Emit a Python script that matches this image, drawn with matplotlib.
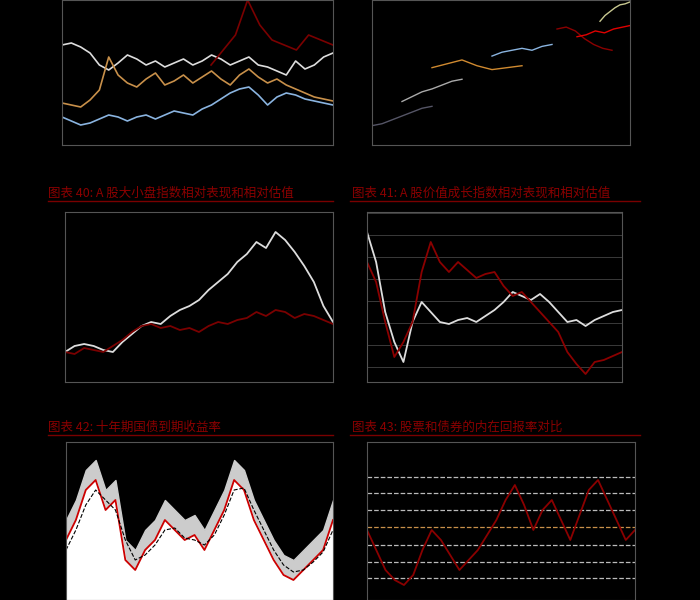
import matplotlib
matplotlib.use("Agg")
import matplotlib.pyplot as plt
import numpy as np

plt.rcParams['font.family'] = ['Noto Sans CJK SC', 'DejaVu Sans']

titles = ["图表 40: A 股大小盘指数相对表现和相对估值", "图表 41: A 股价值成长指数相对表现和相对估值",
          "图表 42: 十年期国债到期收益率", "图表 43: 股票和债券的内在回报率对比"]

# panel 1 (top-left)
p1_white = [100,102,98,92,80,75,82,90,86,80,84,78,82,86,80,84,90,86,80,84,88,80,78,74,70,84,76,80,88,92]
p1_orange = [42,40,38,45,55,88,70,62,58,66,72,60,64,70,62,68,74,66,60,70,76,68,62,66,60,56,52,48,46,44]
p1_blue = [28,24,20,22,26,30,28,24,28,30,26,30,34,32,30,36,40,46,52,56,58,50,40,48,52,50,46,44,42,40]
p1_red = [80,95,110,145,120,105,100,95,110,105,100]
# panel 2 (top-right) step segments
p2_segments = [
    ("#555566", [20,22,26,30,34,38,40]),
    ("#aaaaaa", [45,50,55,58,62,66,68]),
    ("#d08a30", [80,84,88,82,78,80,82]),
    ("#8ab4e0", [92,96,98,100,98,102,104]),
    ("#8b0000", [120,122,118,110,104,100,98]),
    ("#e00000", [112,114,118,116,120,122,124]),
    ("#c8c890", [128,134,138,142,145,146,148]),
]
p2_x = [(0,60),(30,90),(60,150),(120,180),(185,240),(205,260),(228,258)]
# panel 3 (mid-left)
p3_white = [30,36,38,36,32,30,40,48,56,60,58,66,72,76,82,92,100,108,120,128,140,134,150,142,130,116,100,76,60]
p3_red = [30,28,34,32,30,36,42,50,56,58,54,56,52,54,50,56,60,58,62,64,70,66,72,70,64,68,66,62,58]
# panel 4 (mid-right)
p4_white = [150,120,70,40,20,60,80,70,60,58,62,64,60,66,72,80,90,86,82,88,80,70,60,62,56,62,66,70,72]
p4_red = [120,100,60,25,40,60,110,140,120,110,120,112,104,108,110,96,86,90,80,70,60,50,30,18,8,20,22,26,30]
# panel 5 (bottom-left)
p5_red = [60,80,110,120,90,100,40,30,50,60,80,70,60,65,50,70,90,120,110,80,60,40,25,20,30,40,50,80]
p5_upper = [v + 20 for v in p5_red]
p5_dash = [50,70,95,110,100,90,60,40,45,55,70,72,62,60,55,65,85,110,112,90,70,50,35,28,30,38,48,70]
# panel 6 (bottom-right)
p6_red = [70,50,30,20,15,25,50,70,60,45,30,40,50,65,80,100,115,95,70,90,100,80,60,85,110,120,100,80,60,70]
p6_levels = [123,107,90,73,55,38,22]

fig = plt.figure(figsize=(7, 6), dpi=100, facecolor='black')

def ax_at(x0, y0, x1, y1):
    ax = fig.add_axes([x0/700, 1-y1/600, (x1-x0)/700, (y1-y0)/600])
    ax.set_facecolor('black')
    for s in ax.spines.values():
        s.set_color('#555555')
    ax.set_xticks([]); ax.set_yticks([])
    return ax

def xs(n, a=0, b=100):
    return np.linspace(a, b, n)

a1 = ax_at(62, 0, 333, 145); a1.set_ylim(0, 145); a1.set_xlim(0, 100)
a1.plot(xs(len(p1_white)), p1_white, color='#dddddd', lw=1.2)
a1.plot(xs(len(p1_orange)), p1_orange, color='#c8904a', lw=1.2)
a1.plot(xs(len(p1_blue)), p1_blue, color='#8ab4e0', lw=1.2)
a1.plot(xs(len(p1_red), 55, 100), p1_red, color='#7a0000', lw=1.2)

a2 = ax_at(372, 0, 630, 145); a2.set_ylim(0, 150); a2.set_xlim(0, 258)
for (c, v), (x0, x1) in zip(p2_segments, p2_x):
    a2.plot(xs(len(v), x0, x1), v, color=c, lw=1)

a3 = ax_at(65, 212, 333, 382); a3.set_ylim(0, 170); a3.set_xlim(0, 100)
a3.plot(xs(len(p3_white)), p3_white, color='#dddddd', lw=1.3)
a3.plot(xs(len(p3_red)), p3_red, color='#7a0000', lw=1.3)

a4 = ax_at(367, 212, 622, 382); a4.set_ylim(0, 170); a4.set_xlim(0, 100)
for y in range(15, 170, 22):
    a4.axhline(y, color='#444444', lw=0.6)
a4.plot(xs(len(p4_white)), p4_white, color='#dddddd', lw=1.3)
a4.plot(xs(len(p4_red)), p4_red, color='#8b0000', lw=1.3)

a5 = ax_at(66, 442, 333, 600); a5.set_ylim(0, 158); a5.set_xlim(0, 100)
x5 = xs(len(p5_red))
a5.fill_between(x5, 0, p5_upper, color='#cccccc')
a5.fill_between(x5, 0, p5_red, color='white')
a5.plot(x5, p5_red, color='#cc0000', lw=1.3)
a5.plot(x5, p5_dash, color='black', lw=0.8, ls='--')

a6 = ax_at(367, 442, 635, 600); a6.set_ylim(0, 158); a6.set_xlim(0, 100)
for i, y in enumerate(p6_levels):
    a6.axhline(y, color='#c8904a' if i == 3 else '#bbbbbb', lw=0.9, ls='--')
a6.plot(xs(len(p6_red)), p6_red, color='#8b0000', lw=1.3)

for t, (tx, ty, lx0, lx1) in zip(titles, [(48,193,48,333),(352,193,350,640),(48,427,48,333),(352,427,350,640)]):
    fig.text(tx/700, 1-ty/600, t, color='#8b0000', fontsize=9, style='italic', va='center')
    fig.add_artist(plt.Line2D([lx0/700, lx1/700], [1-(ty+8)/600]*2, color='#7a0000', lw=1))

fig.savefig('out.png', dpi=100, facecolor='black')
